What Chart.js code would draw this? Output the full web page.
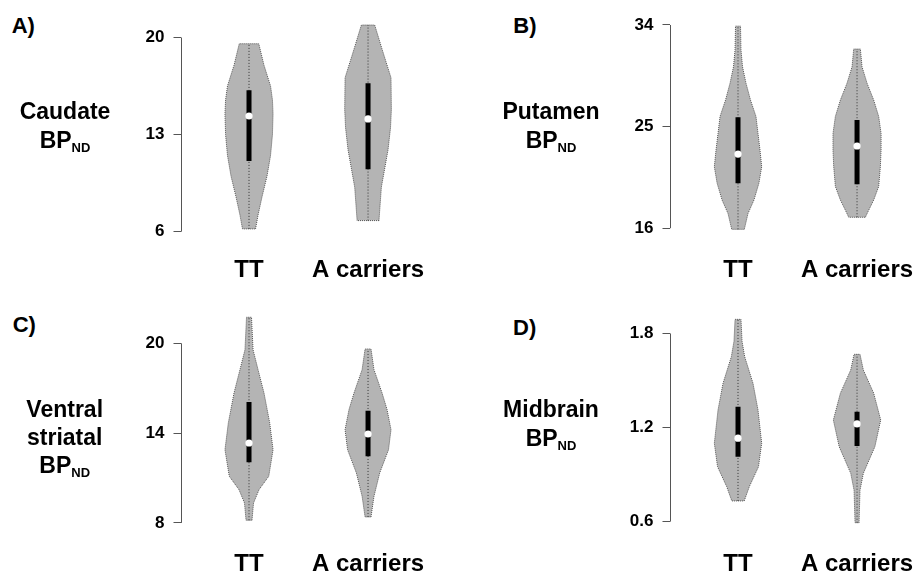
<!DOCTYPE html>
<html><head><meta charset="utf-8">
<script src="https://cdn.jsdelivr.net/npm/chart.js@4.4.1/dist/chart.umd.min.js"></script>
<style>
html,body{margin:0;padding:0;background:#fff;width:920px;height:573px;overflow:hidden;position:relative;font-family:"Liberation Sans",Arial,Helvetica,sans-serif;}
canvas{position:absolute;}
.lbl{position:absolute;width:200px;text-align:center;font-weight:bold;font-size:23px;line-height:23px;color:#000;white-space:nowrap;}
.lbl sub{font-size:13px;vertical-align:-4px;line-height:0;}
.pl{position:absolute;font-weight:bold;font-size:22px;line-height:22px;color:#000;white-space:nowrap;}
</style></head><body>
<canvas id="cA" width="301" height="292" style="left:130px;top:0px;width:301px;height:292px"></canvas>
<canvas id="cB" width="301" height="292" style="left:619px;top:0px;width:301px;height:292px"></canvas>
<canvas id="cC" width="301" height="283" style="left:130px;top:290px;width:301px;height:283px"></canvas>
<canvas id="cD" width="301" height="283" style="left:619px;top:290px;width:301px;height:283px"></canvas>

<div class="pl" style="left:11.7px;top:14.7px">A)</div>
<div class="pl" style="left:513.3px;top:14.7px">B)</div>
<div class="pl" style="left:12.7px;top:314.4px">C)</div>
<div class="pl" style="left:513px;top:317.4px">D)</div>

<div class="lbl" style="left:-35px;top:99.8px">Caudate</div>
<div class="lbl" style="left:-35px;top:128.8px">BP<sub>ND</sub></div>
<div class="lbl" style="left:451px;top:99.8px">Putamen</div>
<div class="lbl" style="left:451px;top:128.8px">BP<sub>ND</sub></div>
<div class="lbl" style="left:-35.3px;top:397.5px">Ventral</div>
<div class="lbl" style="left:-35.3px;top:425.5px">striatal</div>
<div class="lbl" style="left:-35.3px;top:453.5px">BP<sub>ND</sub></div>
<div class="lbl" style="left:451px;top:397.5px">Midbrain</div>
<div class="lbl" style="left:451px;top:426.5px">BP<sub>ND</sub></div>

<script>
// ---------- data ----------
const categories = ['TT', 'A carriers'];

// Caudate (A)
const caudateTicks = [6, 13, 20];
const caudateTickLabels = ['6', '13', '20'];
const caudateTT_y = [6.2, 7.2, 8.5, 10.0, 11.5, 13.0, 14.5, 15.5, 16.5, 18.0, 19.55];
const caudateTT_w = [0.055, 0.076, 0.109, 0.151, 0.181, 0.197, 0.202, 0.197, 0.181, 0.126, 0.082];
const caudateTT_box = [11.1, 14.34, 16.2];
const caudateA_y = [6.8, 9.2, 11.9, 13.5, 14.8, 17.1, 19.1, 20.9];
const caudateA_w = [0.092, 0.112, 0.168, 0.189, 0.196, 0.193, 0.120, 0.056];
const caudateA_box = [10.5, 14.13, 16.7];

// Putamen (B)
const putamenTicks = [16, 25, 34];
const putamenTickLabels = ['16', '25', '34'];
const putamenTT_y = [15.9, 17.3, 18.5, 20.0, 21.45, 22.9, 24.4, 25.9, 27.35, 28.85, 30.3, 31.8, 33.9];
const putamenTT_w = [0.053, 0.084, 0.134, 0.176, 0.199, 0.185, 0.168, 0.151, 0.105, 0.067, 0.038, 0.025, 0.021];
const putamenTT_box = [19.98, 22.57, 25.82];
const putamenA_y = [16.97, 17.6, 18.5, 19.7, 21.45, 22.9, 24.4, 25.9, 27.35, 28.85, 30.3, 31.87];
const putamenA_w = [0.070, 0.098, 0.140, 0.182, 0.196, 0.202, 0.202, 0.182, 0.140, 0.084, 0.042, 0.028];
const putamenA_box = [19.89, 23.28, 25.59];

// Ventral striatal (C)
const ventralTicks = [8, 14, 20];
const ventralTickLabels = ['8', '14', '20'];
const ventralTT_y = [8.18, 9.33, 10.22, 11.12, 12.89, 14.68, 16.68, 18.24, 19.57, 21.74];
const ventralTT_w = [0.025, 0.038, 0.084, 0.166, 0.202, 0.174, 0.126, 0.076, 0.034, 0.021];
const ventralTT_box = [12.05, 13.34, 16.08];
const ventralA_y = [8.4, 9.78, 11.34, 12.89, 14.23, 15.57, 16.68, 18.24, 19.62];
const ventralA_w = [0.025, 0.050, 0.098, 0.172, 0.193, 0.160, 0.118, 0.050, 0.025];
const ventralA_box = [12.45, 13.94, 15.5];

// Midbrain (D)
const midbrainTicks = [0.6, 1.2, 1.8];
const midbrainTickLabels = ['0.6', '1.2', '1.8'];
const midbrainTT_y = [0.732, 0.823, 0.95, 1.10, 1.312, 1.482, 1.652, 1.75, 1.89];
const midbrainTT_w = [0.052, 0.095, 0.172, 0.199, 0.168, 0.126, 0.056, 0.034, 0.025];
const midbrainTT_box = [1.014, 1.132, 1.333];
const midbrainA_y = [0.593, 0.80, 0.908, 1.078, 1.248, 1.419, 1.567, 1.667];
const midbrainA_w = [0.017, 0.025, 0.053, 0.150, 0.199, 0.140, 0.053, 0.025];
const midbrainA_box = [1.083, 1.223, 1.301];

// ---------- style / layout ----------
const FONT = '"Liberation Sans", Arial, Helvetica, sans-serif';
const FILL = '#b4b4b4';
const OUTLINE = '#555555';
const AXIS = '#555555';

function violinDatasets(center, ys, ws, box) {
  const outline = [];
  for (let i = 0; i < ys.length; i++) outline.push({x: center + ws[i], y: ys[i]});
  for (let i = ys.length - 1; i >= 0; i--) outline.push({x: center - ws[i], y: ys[i]});
  outline.push({x: center + ws[0], y: ys[0]});
  return [
    {data: [{x: center, y: box[1]}], showLine: false, pointRadius: 3.6, pointBackgroundColor: '#ffffff', pointBorderWidth: 0, order: 1},
    {data: [{x: center, y: box[0]}, {x: center, y: box[2]}], showLine: true, borderColor: '#000', borderWidth: 5, borderCapStyle: 'butt', pointRadius: 0, order: 2},
    {data: [{x: center, y: ys[0]}, {x: center, y: ys[ys.length - 1]}], showLine: true, borderColor: '#333', borderWidth: 1, borderDash: [1, 2], pointRadius: 0, order: 3},
    {data: outline, showLine: true, fill: 'shape', backgroundColor: FILL, borderColor: OUTLINE, borderWidth: 1, borderDash: [1, 1], pointRadius: 0, tension: 0, order: 4}
  ];
}

const axisSpan = {
  id: 'axisSpan',
  afterDraw(chart) {
    const y = chart.scales.y, ctx = chart.ctx;
    const t = y.ticks;
    const x = Math.round(chart.chartArea.left) + 0.5;
    ctx.save();
    ctx.strokeStyle = AXIS; ctx.lineWidth = 1;
    ctx.beginPath();
    ctx.moveTo(x, y.getPixelForValue(t[0].value));
    ctx.lineTo(x, y.getPixelForValue(t[t.length - 1].value));
    ctx.stroke();
    ctx.restore();
  }
};

function makePanel(id, ticks, tickLabels, ymin, ymax, vTT, vA, lay) {
  const datasets = [].concat(
    violinDatasets(1, vTT[0], vTT[1], vTT[2]),
    violinDatasets(2, vA[0], vA[1], vA[2])
  );
  new Chart(document.getElementById(id), {
    type: 'scatter',
    data: {datasets},
    plugins: [axisSpan],
    options: {
      responsive: false, animation: false, events: [],
      layout: {autoPadding: false, padding: {top: lay.pt, left: 0, right: 0, bottom: 0}},
      plugins: {legend: {display: false}, tooltip: {enabled: false}},
      scales: {
        x: {
          type: 'linear', min: 0.4244, max: 2.529,
          grid: {display: false}, border: {display: false},
          afterBuildTicks(s) { s.ticks = categories.map((c, i) => ({value: i + 1})); },
          afterFit(s) { s.height = lay.xh; s.paddingLeft = 0; s.paddingRight = 0; },
          ticks: {
            autoSkip: false, maxRotation: 0, padding: lay.tp, color: '#000',
            font: {family: FONT, size: 24, weight: 'bold'},
            callback: (v, i) => categories[i]
          }
        },
        y: {
          type: 'linear', min: ymin, max: ymax,
          border: {display: false},
          grid: {display: true, drawOnChartArea: false, drawTicks: true, tickLength: 7, color: AXIS, lineWidth: 1},
          afterBuildTicks(s) { s.ticks = ticks.map(v => ({value: v})); },
          afterFit(s) { s.width = 50.5; s.paddingTop = 0; s.paddingBottom = 0; },
          ticks: {
            autoSkip: false, padding: 9, color: '#000',
            font: {family: FONT, size: 17, weight: 'bold'},
            callback: (v, i) => tickLabels[i]
          }
        }
      }
    }
  });
}

makePanel('cA', caudateTicks, caudateTickLabels, 5, 22,
  [caudateTT_y, caudateTT_w, caudateTT_box], [caudateA_y, caudateA_w, caudateA_box],
  {pt: 9.76, xh: 46.45, tp: 2.05});
makePanel('cB', putamenTicks, putamenTickLabels, 15, 35,
  [putamenTT_y, putamenTT_w, putamenTT_box], [putamenA_y, putamenA_w, putamenA_box],
  {pt: 13.71, xh: 52.5, tp: 8.1});
makePanel('cC', ventralTicks, ventralTickLabels, 7, 23,
  [ventralTT_y, ventralTT_w, ventralTT_box], [ventralA_y, ventralA_w, ventralA_box],
  {pt: 8.4, xh: 35.1, tp: 3.7});
makePanel('cD', midbrainTicks, midbrainTickLabels, 0.5, 2.0,
  [midbrainTT_y, midbrainTT_w, midbrainTT_box], [midbrainA_y, midbrainA_w, midbrainA_box],
  {pt: 12.1, xh: 35.7, tp: 4.3});
</script>
</body></html>
